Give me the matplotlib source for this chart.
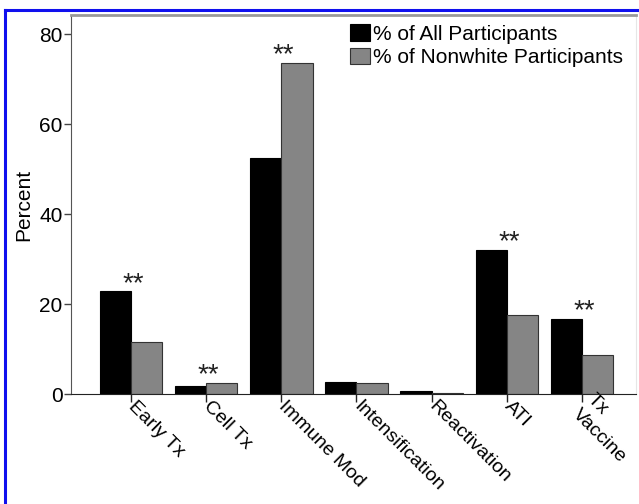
import numpy as np
import matplotlib
matplotlib.use("Agg")
import matplotlib.pyplot as plt
from matplotlib.lines import Line2D

plt.rcParams['font.family'] = ['Liberation Sans', 'DejaVu Sans']

categories = ['Early Tx', 'Cell Tx', 'Immune Mod', 'Intensification',
              'Reactivation', 'ATI', 'Tx\nVaccine']
all_pct = [22.9, 1.8, 52.6, 2.8, 0.8, 32.1, 16.7]
nonwhite_pct = [11.6, 2.5, 73.7, 2.4, 0.2, 17.6, 8.7]
significant = [True, True, True, False, False, True, True]

fig = plt.figure(figsize=(6.39, 5.04), dpi=100)
ax = fig.add_axes([0.111, 0.2177, 0.884, 0.7525])

x = np.arange(len(categories))
w = 0.416
ax.bar(x - w / 2, all_pct, width=w, color='black', edgecolor='black',
       linewidth=0.8, label='% of All Participants')
ax.bar(x + w / 2, nonwhite_pct, width=w, color='#858585', edgecolor='#333333',
       linewidth=0.8, label='% of Nonwhite Participants')

# significance markers
for i, sig in enumerate(significant):
    if sig:
        top = max(all_pct[i], nonwhite_pct[i])
        ax.text(x[i] + 0.03, top + 0.1, '**', ha='center', va='baseline',
                fontsize=20, color='#222222')

ax.set_xlim(-0.798, 6.715)
ax.set_ylim(0, 84.3)
ax.set_yticks([0, 20, 40, 60, 80])
ax.set_xticks(x)
ax.set_xticklabels(categories, rotation=-45, ha='left', va='center',
                   rotation_mode='anchor', fontsize=14, linespacing=1.3)
ax.tick_params(axis='y', labelsize=15, length=5, width=1, pad=1, color='#444444')
ax.tick_params(axis='x', length=6, width=1, pad=1, color='#222222')
ax.set_ylabel('Percent', fontsize=15, labelpad=4)

ax.spines['left'].set_color('#555555')
ax.spines['bottom'].set_color('#222222')
ax.spines['top'].set_color('#999999')
ax.spines['top'].set_linewidth(2)
ax.spines['right'].set_color('#e6e6e6')

ax.legend(loc='upper left', bbox_to_anchor=(350 / 639, 1 - 24 / 504),
          bbox_transform=fig.transFigure, frameon=False, fontsize=15,
          borderpad=0, borderaxespad=0, handlelength=0.95, handleheight=0.85,
          handletextpad=0.15, labelspacing=0.2)

# blue frame remnants (top and left edges)
fig.add_artist(Line2D([4.5 / 639, 1], [1 - 10 / 504, 1 - 10 / 504],
                      transform=fig.transFigure, color='#1010ee', linewidth=2.2))
fig.add_artist(Line2D([4.5 / 639, 4.5 / 639], [0, 1 - 10 / 504],
                      transform=fig.transFigure, color='#1010ee', linewidth=2.2))

fig.savefig('out.png', dpi=100)
